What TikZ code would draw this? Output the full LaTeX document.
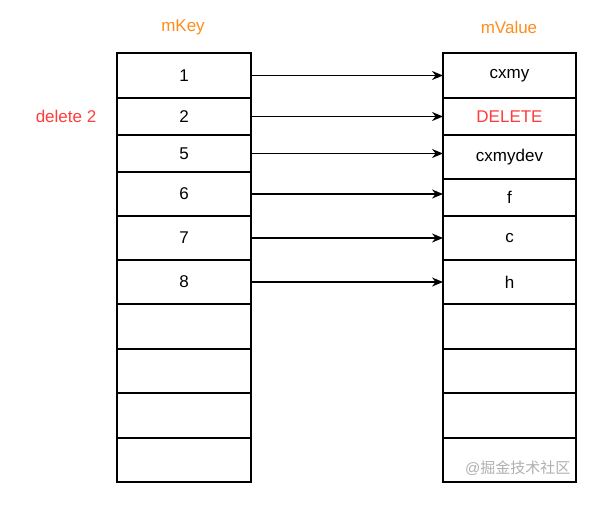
\documentclass[tikz,border=0pt]{standalone}
\usepackage{fontspec}
\setmainfont{Liberation Sans}
\newfontfamily\cjkfont{Noto Sans CJK SC}
\usetikzlibrary{arrows.meta,calc}
\definecolor{labelorange}{RGB}{255,140,30}
\definecolor{delred}{RGB}{255,60,60}
\definecolor{wmgray}{RGB}{175,175,175}
\tikzset{
  cell/.style={draw=black,line width=1.3pt,inner sep=0pt,outer sep=0pt,anchor=north west,font=\fontsize{17}{19}\selectfont},
  keycell/.style={cell,minimum width=134pt},
  valcell/.style={cell,minimum width=133pt},
  link/.style={line width=1.3pt,-{Stealth[length=11pt,width=9pt]}},
  title/.style={font=\fontsize{17}{19}\selectfont,text=labelorange}
}
\begin{document}
\begin{tikzpicture}[x=1pt,y=-1pt]
\useasboundingbox (0,0) rectangle (613,514);
% key column
\node[keycell,minimum height=45pt] (k1) at (117,53) {1};
\node[keycell,minimum height=37pt] (k2) at (117,98) {2};
\node[keycell,minimum height=37pt] (k3) at (117,135) {5};
\node[keycell,minimum height=44pt] (k4) at (117,172) {6};
\node[keycell,minimum height=44pt] (k5) at (117,216) {7};
\node[keycell,minimum height=44pt] (k6) at (117,260) {8};
\node[keycell,minimum height=45pt] (k7) at (117,304) {};
\node[keycell,minimum height=44pt] (k8) at (117,349) {};
\node[keycell,minimum height=45pt] (k9) at (117,393) {};
\node[keycell,minimum height=44pt] (k10) at (117,438) {};
% value column
\node[valcell,minimum height=45pt] (v1) at (443,53) {cxmy};
\node[valcell,minimum height=37pt,text=delred] (v2) at (443,98) {DELETE};
\node[valcell,minimum height=44pt] (v3) at (443,135) {cxmydev};
\node[valcell,minimum height=37pt] (v4) at (443,179) {f};
\node[valcell,minimum height=44pt] (v5) at (443,216) {c};
\node[valcell,minimum height=44pt] (v6) at (443,260) {h};
\node[valcell,minimum height=45pt] (v7) at (443,304) {};
\node[valcell,minimum height=44pt] (v8) at (443,349) {};
\node[valcell,minimum height=45pt] (v9) at (443,393) {};
\node[valcell,minimum height=44pt] (v10) at (443,438) {};
% titles
\node[title] (tkey) at (183,27) {mKey};
\node[title] (tval) at (509,27) {mValue};
\node[font=\fontsize{17}{19}\selectfont,text=delred] (del) at (66,116) {delete 2};
% links
\foreach \i in {1,...,6}{
  \draw[link] (k\i.east) -- (k\i.east -| v\i.west);
}
% watermark
\node[anchor=east,text=wmgray,font=\fontsize{15}{17}\selectfont] (wm) at (574,468) {@\cjkfont 掘金技术社区};
\end{tikzpicture}
\end{document}
